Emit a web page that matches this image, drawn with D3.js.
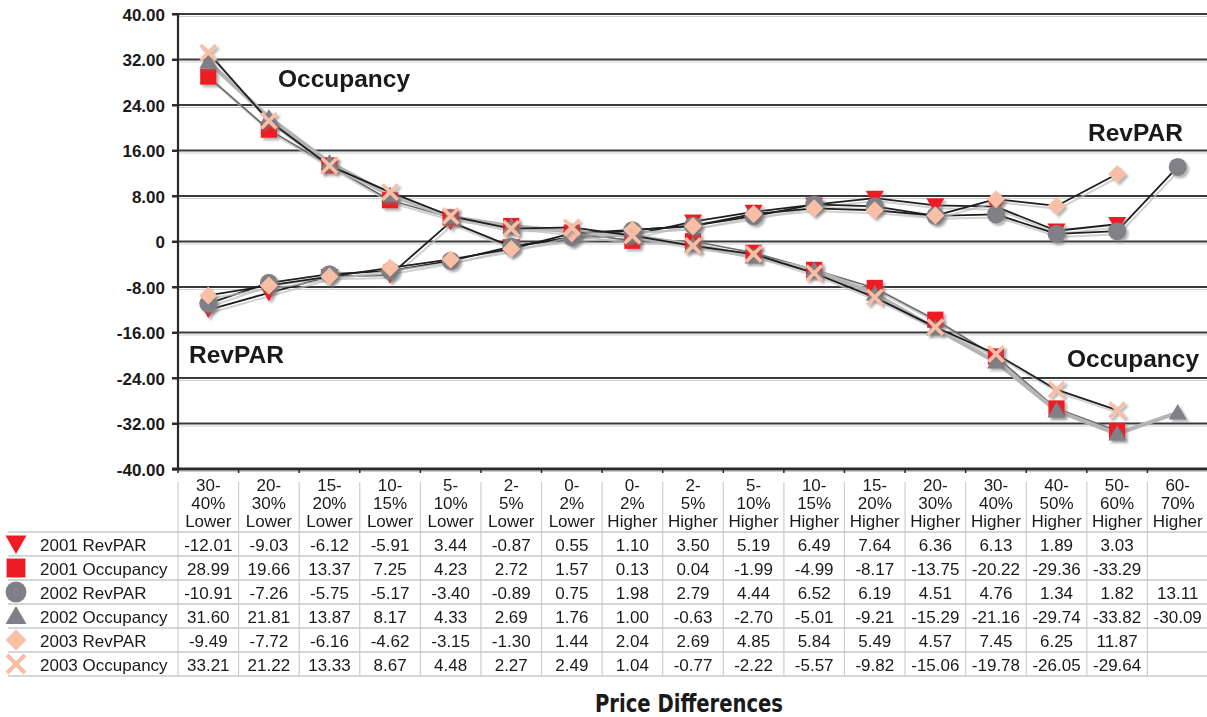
<!DOCTYPE html>
<html>
<head>
<meta charset="utf-8">
<script src="https://cdn.jsdelivr.net/npm/d3@7"></script>
<style>
  html, body { margin: 0; padding: 0; background: #fff; }
  svg { display: block; font-family: "Liberation Sans", Arial, Helvetica, sans-serif; }
</style>
</head>
<body>
<svg id="chart" width="1207" height="717"></svg>
<script>
// Price-difference bands (three header lines each)
const categories = [
  ["30-", "40%", "Lower"], ["20-", "30%", "Lower"], ["15-", "20%", "Lower"],
  ["10-", "15%", "Lower"], ["5-", "10%", "Lower"], ["2-", "5%", "Lower"],
  ["0-", "2%", "Lower"], ["0-", "2%", "Higher"], ["2-", "5%", "Higher"],
  ["5-", "10%", "Higher"], ["10-", "15%", "Higher"], ["15-", "20%", "Higher"],
  ["20-", "30%", "Higher"], ["30-", "40%", "Higher"], ["40-", "50%", "Higher"],
  ["50-", "60%", "Higher"], ["60-", "70%", "Higher"]
];

const rev2001 = [-12.01, -9.03, -6.12, -5.91, 3.44, -0.87, 0.55, 1.10, 3.50, 5.19, 6.49, 7.64, 6.36, 6.13, 1.89, 3.03, null];
const occ2001 = [28.99, 19.66, 13.37, 7.25, 4.23, 2.72, 1.57, 0.13, 0.04, -1.99, -4.99, -8.17, -13.75, -20.22, -29.36, -33.29, null];
const rev2002 = [-10.91, -7.26, -5.75, -5.17, -3.40, -0.89, 0.75, 1.98, 2.79, 4.44, 6.52, 6.19, 4.51, 4.76, 1.34, 1.82, 13.11];
const occ2002 = [31.60, 21.81, 13.87, 8.17, 4.33, 2.69, 1.76, 1.00, -0.63, -2.70, -5.01, -9.21, -15.29, -21.16, -29.74, -33.82, -30.09];
const rev2003 = [-9.49, -7.72, -6.16, -4.62, -3.15, -1.30, 1.44, 2.04, 2.69, 4.85, 5.84, 5.49, 4.57, 7.45, 6.25, 11.87, null];
const occ2003 = [33.21, 21.22, 13.33, 8.67, 4.48, 2.27, 2.49, 1.04, -0.77, -2.22, -5.57, -9.82, -15.06, -19.78, -26.05, -29.64, null];

const seriesNames = ["2001 RevPAR", "2001 Occupancy", "2002 RevPAR", "2002 Occupancy", "2003 RevPAR", "2003 Occupancy"];
const seriesValues = [rev2001, occ2001, rev2002, occ2002, rev2003, occ2003];

const yTicks = [40, 32, 24, 16, 8, 0, -8, -16, -24, -32, -40];

// Series styling
const RED = "#ed1c24", GRAY = "#808086", PEACH = "#f9bfa6";
const seriesStyle = [
  { shape: "triDown", fill: RED,   line: "#1e1e1e", width: 1.8 },
  { shape: "square",  fill: RED,   line: "#6a6a6a", width: 1.6 },
  { shape: "circle",  fill: GRAY,  line: "#1e1e1e", width: 1.8 },
  { shape: "triUp",   fill: GRAY,  line: "#b4b4b4", width: 4.2 },
  { shape: "diamond", fill: PEACH, line: "#1e1e1e", width: 1.8 },
  { shape: "x",       fill: PEACH, line: "#1e1e1e", width: 1.8 }
];

// two-decimal numbers with a plain hyphen for negatives
const fmt2 = v => d3.format(".2f")(v).replace("\u2212", "-");

const svg = d3.select("#chart");
const W = 1207;

const catKeys = categories.map((c, i) => i);
const x = d3.scaleBand().domain(catKeys).range([178, 1208]).padding(0);
const y = d3.scaleLinear().domain([-40, 40]).range([469, 14]);
const cx = i => x(i) + x.bandwidth() / 2;

// drop shadow for markers
const defs = svg.append("defs");
const f = defs.append("filter").attr("id", "shadow").attr("x", "-50%").attr("y", "-50%").attr("width", "200%").attr("height", "200%");
f.append("feDropShadow").attr("dx", 2.5).attr("dy", 2.5).attr("stdDeviation", 1.3)
  .attr("flood-color", "#777").attr("flood-opacity", 0.55);

// marker path generator, s = nominal size
function markerPath(shape, s) {
  const h = s / 2;
  switch (shape) {
    case "triDown": return `M${-h},${-h * 0.8}L${h},${-h * 0.8}L0,${h * 0.95}Z`;
    case "triUp":   return `M${-h},${h * 0.75}L${h},${h * 0.75}L0,${-h * 0.95}Z`;
    case "square":  { const q = h * 0.9; return `M${-q},${-q}H${q}V${q}H${-q}Z`; }
    case "circle":  { const p = d3.path(); p.arc(0, 0, h, 0, 2 * Math.PI); p.closePath(); return p.toString(); }
    case "diamond": return `M0,${-h}L${h},0L0,${h}L${-h},0Z`;
    case "x":       { const q = h * 0.85; return `M${-q},${-q}L${q},${q}M${q},${-q}L${-q},${q}`; }
  }
}

function drawMarker(g, shape, fill, s) {
  const p = g.append("path").attr("d", markerPath(shape, s));
  if (shape === "x") {
    p.attr("fill", "none").attr("stroke", fill).attr("stroke-width", s * 0.2).attr("stroke-linecap", "butt");
  } else {
    p.attr("fill", fill);
  }
  return p;
}

// ---- gridlines ----
const grid = svg.append("g");
yTicks.forEach(t => {
  const yy = y(t);
  grid.append("line").attr("x1", 178).attr("x2", W).attr("y1", yy + 2.5).attr("y2", yy + 2.5)
    .attr("stroke", "#cfcfcf").attr("stroke-width", 1);
  grid.append("line").attr("x1", 172).attr("x2", W).attr("y1", yy).attr("y2", yy)
    .attr("stroke", t === -40 ? "#2a2a2a" : "#3a3a3a").attr("stroke-width", t === -40 ? 3 : 2);
});

// ---- y axis ----
const yAxis = d3.axisLeft(y).tickValues(yTicks).tickSize(6).tickPadding(7)
  .tickFormat(d => d === 0 ? "0" : fmt2(d));
const yG = svg.append("g").attr("transform", "translate(178,0)").call(yAxis);
yG.select(".domain").attr("stroke", "#2a2a2a").attr("stroke-width", 2.2).attr("d", `M-6,${y(40)}H0V${y(-40)}H-6`);
yG.selectAll(".tick line").attr("stroke", "#2a2a2a").attr("stroke-width", 2);
yG.selectAll(".tick text").attr("font-size", 17).attr("font-weight", "bold").attr("fill", "#1a1a1a")
  .attr("font-family", "'Liberation Sans', Arial, sans-serif").attr("dy", "0.36em");

// bottom ticks at band boundaries
const xb = svg.append("g");
catKeys.forEach(i => {
  xb.append("line").attr("x1", x(i)).attr("x2", x(i)).attr("y1", y(-40)).attr("y2", y(-40) + 4)
    .attr("stroke", "#2a2a2a").attr("stroke-width", 1.5);
});

// ---- series lines ----
const plot = svg.append("g");
const lineGenIdx = d3.line().defined(d => d.v != null).x(d => cx(d.i)).y(d => y(d.v));

seriesValues.forEach((vals, k) => {
  const pts = vals.map((v, i) => ({ v, i }));
  const st = seriesStyle[k];
  if (st.width < 3) {
    plot.append("path").attr("d", lineGenIdx(pts)).attr("fill", "none")
      .attr("stroke", "#bdbdbd").attr("stroke-width", 2).attr("opacity", 0.7)
      .attr("transform", "translate(2,3)");
  }
  plot.append("path").attr("d", lineGenIdx(pts)).attr("fill", "none")
    .attr("stroke", st.line).attr("stroke-width", st.width).attr("stroke-linejoin", "round");
});

// ---- series markers ----
seriesValues.forEach((vals, k) => {
  const st = seriesStyle[k];
  const mg = plot.append("g").attr("filter", "url(#shadow)");
  vals.forEach((v, i) => {
    if (v == null) return;
    const g = mg.append("g").attr("transform", `translate(${cx(i)},${y(v)})`);
    drawMarker(g, st.shape, st.fill, 18);
  });
});

// ---- annotations ----
const ann = [
  { t: "Occupancy", x: 278, y: 87 },
  { t: "RevPAR", x: 189, y: 363 },
  { t: "RevPAR", x: 1088, y: 141 },
  { t: "Occupancy", x: 1067, y: 367 }
];
svg.append("g").selectAll("text").data(ann).join("text")
  .attr("x", d => d.x).attr("y", d => d.y).text(d => d.t)
  .attr("font-size", 24.5).attr("font-weight", "bold").attr("fill", "#1a1a1a");

// ---- data table ----
const table = svg.append("g").attr("font-size", 17).attr("fill", "#1a1a1a");
const rowTop = 532, rowH = 24;

// vertical separators
catKeys.forEach(i => {
  table.append("line").attr("x1", x(i)).attr("x2", x(i)).attr("y1", 482).attr("y2", rowTop + rowH * 6)
    .attr("stroke", "#cdcdcd").attr("stroke-width", 1.2);
});
// horizontal separators
for (let r = 0; r <= 6; r++) {
  table.append("line").attr("x1", 8).attr("x2", W).attr("y1", rowTop + r * rowH).attr("y2", rowTop + r * rowH)
    .attr("stroke", "#c8c8c8").attr("stroke-width", 1.5);
}

// header labels
categories.forEach((lines, i) => {
  lines.forEach((ln, j) => {
    table.append("text").attr("x", cx(i)).attr("y", 491 + j * 17.8).attr("text-anchor", "middle").text(ln);
  });
});

// rows
seriesValues.forEach((vals, r) => {
  const base = rowTop + r * rowH + 19;
  table.append("text").attr("x", 40).attr("y", base).text(seriesNames[r]);
  vals.forEach((v, i) => {
    if (v == null) return;
    table.append("text").attr("x", cx(i)).attr("y", base).attr("text-anchor", "middle").text(fmt2(v));
  });
  // legend key
  const st = seriesStyle[r];
  const g = table.append("g").attr("transform", `translate(16,${rowTop + r * rowH + 12})`);
  drawMarker(g, st.shape, st.fill, 21);
});

// ---- axis title ----
svg.append("text").attr("x", 689).attr("y", 712).attr("text-anchor", "middle")
  .attr("font-family", "'Liberation Sans Narrow', 'DejaVu Sans Condensed', Arial, sans-serif")
  .attr("font-weight", "bold").attr("font-size", 25).attr("fill", "#1a1a1a")
  .attr("textLength", 188).attr("lengthAdjust", "spacingAndGlyphs")
  .text("Price Differences");
</script>
</body>
</html>
